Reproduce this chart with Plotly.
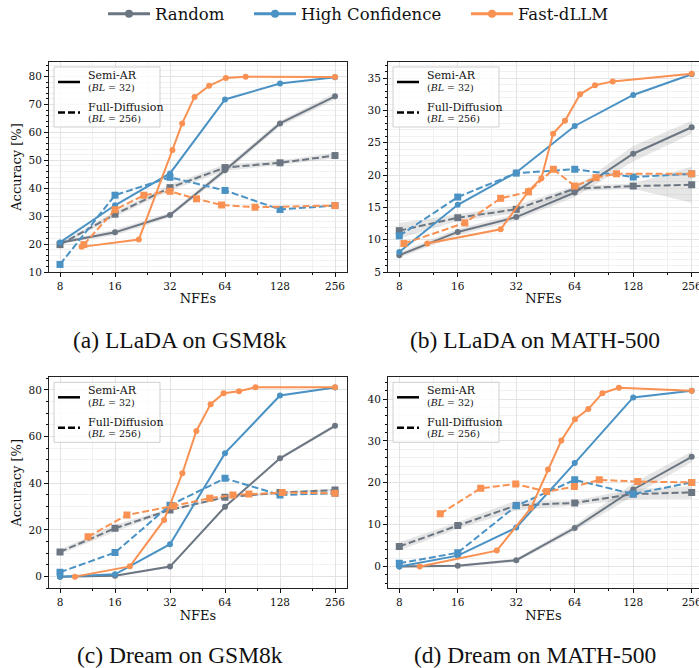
import math
import plotly.graph_objects as go

# ---------------- data ----------------
NFE = [8, 16, 32, 64, 128, 256]
NFE_TICKS = [8, 16, 32, 64, 128, 256]
NFE_MINOR = [12, 24, 48, 96, 192]

# (a) LLaDA on GSM8k
a_rand_sar = [20.5, 24.2, 30.4, 46.4, 63.2, 72.9]
a_rand_sar_sd = [0.5, 1.0, 0.8, 1.0, 1.0, 1.2]
a_rand_fd = [19.8, 30.7, 40.2, 47.4, 49.1, 51.7]
a_rand_fd_sd = [0.6, 1.0, 1.0, 1.2, 0.8, 1.0]
a_hc_sar = [20.6, 33.9, 45.3, 71.8, 77.5, 79.7]
a_hc_fd = [12.7, 37.5, 43.9, 39.2, 32.4, 33.8]
a_fast_sar_nfe = [10.5, 21.6, 33.0, 37.3, 43.6, 52.4, 64.7, 83.0, 256]
a_fast_sar = [19.0, 21.6, 53.7, 63.2, 72.7, 76.7, 79.5, 79.9, 79.8]
a_fast_fd_nfe = [10.8, 16.0, 23.0, 32.0, 44.7, 61.3, 93.4, 256]
a_fast_fd = [19.8, 32.3, 37.5, 38.9, 36.2, 34.0, 33.2, 33.8]

# (b) LLaDA on MATH-500
b_rand_sar = [7.6, 11.2, 13.5, 17.3, 23.3, 27.4]
b_rand_sar_sd = [0.4, 0.5, 0.5, 0.7, 1.2, 1.0]
b_rand_fd = [11.4, 13.4, 14.7, 17.9, 18.3, 18.5]
b_rand_fd_sd = [1.2, 0.5, 0.6, 0.4, 0.4, 2.8]
b_hc_sar = [8.1, 15.4, 20.4, 27.6, 32.4, 35.6]
b_hc_fd = [10.6, 16.6, 20.3, 20.9, 19.7, 20.2]
b_fast_sar_nfe = [11.15, 26.6, 37.2, 43.1, 49.5, 57.0, 68.2, 81.4, 100.4, 256]
b_fast_sar = [9.4, 11.6, 17.6, 19.5, 26.4, 28.4, 32.5, 33.9, 34.5, 35.7]
b_fast_fd_nfe = [8.45, 17.4, 26.6, 37.0, 49.7, 64.0, 82.4, 105.0, 256]
b_fast_fd = [9.4, 12.6, 16.4, 17.4, 20.9, 18.3, 19.6, 20.2, 20.2]

# (c) Dream on GSM8k
c_rand_sar = [0.0, 0.4, 4.3, 29.9, 50.7, 64.6]
c_rand_sar_sd = [0.3, 0.3, 0.5, 0.6, 0.6, 0.8]
c_rand_fd = [10.6, 20.7, 28.6, 34.0, 36.0, 37.1]
c_rand_fd_sd = [1.0, 1.5, 0.6, 0.5, 0.5, 0.6]
c_hc_sar = [0.0, 1.0, 13.9, 52.9, 77.6, 81.0]
c_hc_fd = [1.9, 10.3, 30.6, 42.1, 35.0, 35.7]
c_fast_sar_nfe = [9.66, 19.3, 29.7, 37.4, 44.6, 53.4, 62.9, 76.3, 94.0, 256]
c_fast_sar = [0.0, 4.4, 24.3, 44.3, 62.4, 73.9, 78.6, 79.4, 81.1, 81.1]
c_fast_fd_nfe = [11.4, 18.6, 33.5, 52.8, 70.7, 86.5, 131.6, 256]
c_fast_fd = [17.1, 26.4, 30.3, 33.6, 35.0, 35.4, 36.0, 35.7]

# (d) Dream on MATH-500
d_rand_sar = [0.0, 0.2, 1.5, 9.2, 18.4, 26.2]
d_rand_sar_sd = [0.3, 0.3, 0.4, 0.7, 1.5, 1.3]
d_rand_fd = [4.8, 9.8, 14.6, 15.2, 17.3, 17.7]
d_rand_fd_sd = [1.0, 0.8, 1.2, 0.6, 1.2, 1.5]
d_hc_sar = [0.0, 2.6, 9.3, 24.7, 40.4, 42.0]
d_hc_fd = [0.8, 3.3, 14.5, 20.7, 17.3, 20.1]
d_fast_sar_nfe = [10.2, 25.4, 38.1, 46.6, 54.6, 64.2, 75.2, 88.8, 108.0, 256]
d_fast_sar = [0.0, 3.8, 14.0, 23.2, 30.1, 35.2, 37.6, 41.4, 42.7, 42.0]
d_fast_fd_nfe = [13.0, 21.0, 31.8, 45.9, 63.7, 85.6, 135.0, 256]
d_fast_fd = [12.6, 18.7, 19.7, 17.9, 19.1, 20.7, 20.3, 20.1]

METHODS = ["Random", "High Confidence", "Fast-dLLM"]
CAPTIONS = ["(a) LLaDA on GSM8k", "(b) LLaDA on MATH-500",
            "(c) Dream on GSM8k", "(d) Dream on MATH-500"]

# ---------------- styles ----------------
W, H = 699, 668
C_GRAY = "#6b7682"
C_BLUE = "#4a92c4"
C_ORANGE = "#f99152"
BAND = "rgba(140,140,140,0.22)"
SERIF = "'DejaVu Serif', serif"
TIMES = "'Liberation Serif', 'Times New Roman', Times, serif"
LW = 2
DASH = "7px,3px"

# pixel boxes (left, right, top, bottom)
BOXES = [(49, 347, 62, 272), (388, 699, 62, 272),
         (49, 347, 377.3, 588.3), (388, 699, 377.3, 588.3)]
L2 = math.log10(2)
XR = [[2.8 * L2, 8.218 * L2], [2.807 * L2, 8.125 * L2],
      [2.8 * L2, 8.218 * L2], [2.807 * L2, 8.125 * L2]]
YR = [[10, 85.2], [5, 37.5], [-5, 85.4], [-5.2, 45.2]]
YD = [(10, 2), (5, 1), (20, 5), (10, 2)]

panels = [
    (a_rand_sar, a_rand_sar_sd, a_rand_fd, a_rand_fd_sd, a_hc_sar, a_hc_fd,
     a_fast_sar_nfe, a_fast_sar, a_fast_fd_nfe, a_fast_fd),
    (b_rand_sar, b_rand_sar_sd, b_rand_fd, b_rand_fd_sd, b_hc_sar, b_hc_fd,
     b_fast_sar_nfe, b_fast_sar, b_fast_fd_nfe, b_fast_fd),
    (c_rand_sar, c_rand_sar_sd, c_rand_fd, c_rand_fd_sd, c_hc_sar, c_hc_fd,
     c_fast_sar_nfe, c_fast_sar, c_fast_fd_nfe, c_fast_fd),
    (d_rand_sar, d_rand_sar_sd, d_rand_fd, d_rand_fd_sd, d_hc_sar, d_hc_fd,
     d_fast_sar_nfe, d_fast_sar, d_fast_fd_nfe, d_fast_fd),
]

fig = go.Figure()


def band(x, m, sd, xa, ya):
    up = [v + s for v, s in zip(m, sd)]
    lo = [v - s for v, s in zip(m, sd)]
    fig.add_trace(go.Scatter(x=list(x) + list(x)[::-1], y=up + lo[::-1],
                             fill="toself", fillcolor=BAND, mode="lines",
                             line=dict(width=0), hoverinfo="skip",
                             showlegend=False, xaxis=xa, yaxis=ya))


def line(x, y, color, dashed, xa, ya):
    fig.add_trace(go.Scatter(
        x=x, y=y, mode="lines+markers",
        line=dict(color=color, width=LW, dash=DASH if dashed else "solid"),
        marker=dict(color=color, size=7 if dashed else 6,
                    symbol="square" if dashed else "circle"),
        showlegend=False, xaxis=xa, yaxis=ya))


for i, p in enumerate(panels):
    (rs, rs_sd, rf, rf_sd, hs, hf, fsx, fs, ffx, ff) = p
    xa = "x" if i == 0 else f"x{i+1}"
    ya = "y" if i == 0 else f"y{i+1}"
    band(NFE, rs, rs_sd, xa, ya)
    band(NFE, rf, rf_sd, xa, ya)
    line(NFE, rs, C_GRAY, False, xa, ya)
    line(NFE, rf, C_GRAY, True, xa, ya)
    line(NFE, hs, C_BLUE, False, xa, ya)
    line(NFE, hf, C_BLUE, True, xa, ya)
    line(fsx, fs, C_ORANGE, False, xa, ya)
    line(ffx, ff, C_ORANGE, True, xa, ya)

# top legend: one plotly legend per entry
LEG_X = [103, 249, 466]
for k, (name, col) in enumerate(zip(METHODS, [C_GRAY, C_BLUE, C_ORANGE])):
    lg = "legend" if k == 0 else f"legend{k+1}"
    fig.add_trace(go.Scatter(x=[None], y=[None], mode="lines+markers", name=name,
                             line=dict(color=col, width=3),
                             marker=dict(color=col, size=8),
                             legend=lg, showlegend=True, xaxis="x", yaxis="y"))

layout = dict(
    width=W, height=H, margin=dict(l=0, r=0, t=0, b=0, autoexpand=False),
    paper_bgcolor="white", plot_bgcolor="white",
    font=dict(family=SERIF, size=10, color="#111"),
    shapes=[], annotations=[],
)
for k in range(3):
    lg = "legend" if k == 0 else f"legend{k+1}"
    layout[lg] = dict(x=LEG_X[k] / W, y=1 - 14 / H, xanchor="left",
                      yanchor="middle", orientation="h",
                      font=dict(family=SERIF, size=16.5, color="#111"),
                      bgcolor="rgba(0,0,0,0)", borderwidth=0, itemwidth=42)

for i, (l, r, t, b) in enumerate(BOXES):
    sx = "" if i == 0 else str(i + 1)
    pw, ph = r - l, b - t
    right_cut = r >= W
    layout["xaxis" + sx] = dict(
        type="log", range=XR[i], domain=[l / W, r / W], anchor="y" + sx,
        tickmode="array", tickvals=NFE_TICKS, ticktext=[str(v) for v in NFE_TICKS],
        ticks="outside", ticklen=4, tickwidth=1, tickcolor="#111",
        ticklabeloverflow="allow", automargin=False,
        showline=True, linecolor="#222", linewidth=1, mirror=True,
        showgrid=True, gridcolor="#e3e3e3", gridwidth=1, zeroline=False,
        minor=dict(tickmode="array", tickvals=NFE_MINOR, ticks="outside",
                   ticklen=2, tickcolor="#111", showgrid=True, gridcolor="#f1f1f1"),
        tickfont=dict(family=SERIF, size=10.5, color="#111"),
        title=dict(text="NFEs", font=dict(family=SERIF, size=13, color="#111"),
                   standoff=3),
    )
    dt, mdt = YD[i]
    layout["yaxis" + sx] = dict(
        range=YR[i], domain=[1 - b / H, 1 - t / H], anchor="x" + sx,
        dtick=dt, tick0=0, ticks="outside", ticklen=4, tickwidth=1, tickcolor="#111",
        automargin=False,
        showline=True, linecolor="#222", linewidth=1, mirror=not right_cut,
        showgrid=True, gridcolor="#e3e3e3", gridwidth=1, zeroline=False,
        minor=dict(dtick=mdt, tick0=0, ticks="outside", ticklen=2, tickcolor="#111",
                   showgrid=True, gridcolor="#f1f1f1"),
        tickfont=dict(family=SERIF, size=10.5, color="#111"),
    )
    if i in (0, 2):
        layout["yaxis" + sx]["title"] = dict(
            text="Accuracy [%]", font=dict(family=SERIF, size=13, color="#111"),
            standoff=3)

    xd, yd = f"x{sx} domain", f"y{sx} domain"
    # inner legend box
    layout["shapes"].append(dict(type="rect", xref=xd, yref=yd,
                                 x0=5 / pw, x1=111 / pw, y0=1 - 65 / ph, y1=1 - 5 / ph,
                                 line=dict(color="#cfcfcf", width=1),
                                 fillcolor="rgba(255,255,255,0.8)", layer="above"))
    layout["shapes"].append(dict(type="line", xref=xd, yref=yd,
                                 x0=9 / pw, x1=31 / pw, y0=1 - 20 / ph, y1=1 - 20 / ph,
                                 line=dict(color="black", width=2.5), layer="above"))
    layout["shapes"].append(dict(type="line", xref=xd, yref=yd,
                                 x0=9 / pw, x1=31 / pw, y0=1 - 50.5 / ph, y1=1 - 50.5 / ph,
                                 line=dict(color="black", width=2.5, dash="7px,3px"),
                                 layer="above"))
    for txt, yo, fs in [("Semi-AR", 13, 11), ("(<i>BL</i> = 32)", 25, 9.5),
                        ("Full-Diffusion", 45, 11), ("(<i>BL</i> = 256)", 56.5, 9.5)]:
        layout["annotations"].append(dict(
            text=txt, xref=xd, yref=yd, x=37 / pw, y=1 - yo / ph,
            xanchor="left", yanchor="middle", showarrow=False,
            font=dict(family=SERIF, size=fs, color="#111")))

# captions
for cap, (cx, cy) in zip(CAPTIONS, [(180, 340), (535, 340), (180, 655), (535, 655)]):
    layout["annotations"].append(dict(
        text=cap, xref="paper", yref="paper", x=cx / W, y=1 - cy / H,
        xanchor="center", yanchor="middle", showarrow=False,
        font=dict(family=TIMES, size=23.5, color="#111")))

fig.update_layout(**layout)
fig.write_html("out.html")
